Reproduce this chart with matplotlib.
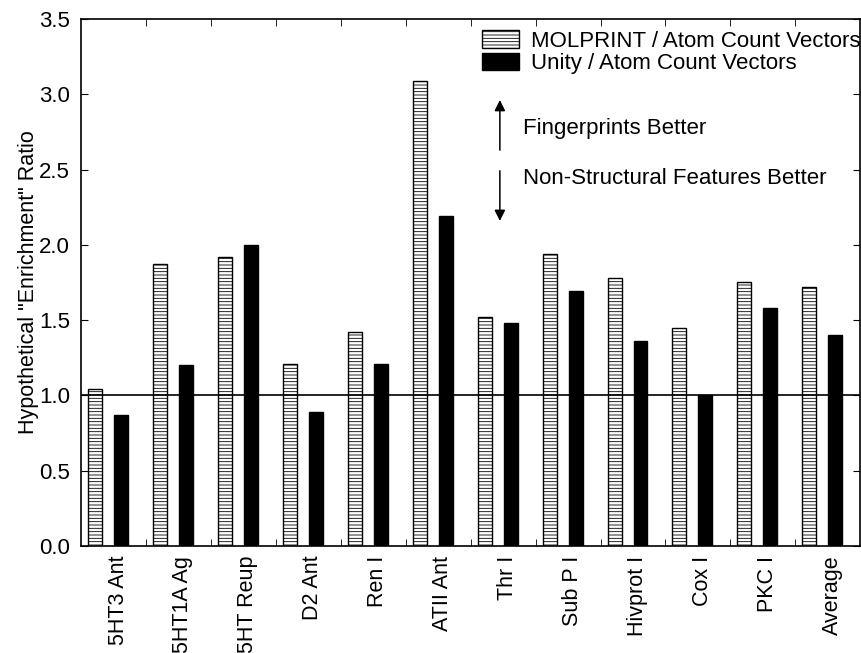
import numpy as np
import matplotlib
matplotlib.use("Agg")
import matplotlib.pyplot as plt
from matplotlib.patches import Patch

# data
targets = ["5HT3 Ant", "5HT1A Ag", "5HT Reup", "D2 Ant", "Ren I", "ATII Ant",
           "Thr I", "Sub P I", "Hivprot I", "Cox I", "PKC I", "Average"]
molprint = [1.04, 1.87, 1.92, 1.21, 1.42, 3.09, 1.52, 1.94, 1.78, 1.45, 1.75, 1.72]
unity = [0.87, 1.20, 2.00, 0.89, 1.21, 2.19, 1.48, 1.69, 1.36, 1.00, 1.58, 1.40]

plt.rcParams['font.family'] = ['Liberation Sans', 'DejaVu Sans']
plt.rcParams['hatch.linewidth'] = 0.6

fig = plt.figure(figsize=(8.62, 6.53), dpi=100)
ax = fig.add_axes([0.094, 0.164, 0.904, 0.807])

x = np.arange(len(targets))
w = 0.215
ax.bar(x + 0.108, molprint, width=w, align='edge', color='white',
       edgecolor='black', hatch='-----', linewidth=1.0,
       label='MOLPRINT / Atom Count Vectors')
ax.bar(x + 0.508, unity, width=w, align='edge', color='black',
       edgecolor='black', linewidth=1.0, label='Unity / Atom Count Vectors')

ax.axhline(1.0, color='black', lw=1.2)

ax.set_xlim(0, len(targets))
ax.set_ylim(0, 3.5)
ax.set_yticks(np.arange(0, 3.51, 0.5))
ax.set_yticklabels([f"{v:.1f}" for v in np.arange(0, 3.51, 0.5)], fontsize=16)
ax.set_xticks(x + 0.57)
ax.set_xticklabels(targets, rotation=90, fontsize=15.5)
ax.tick_params(axis='x', which='major', length=0, pad=7)
ax.set_xticks(np.arange(1, len(targets)), minor=True)
ax.tick_params(axis='x', which='minor', direction='in', length=5, top=True, bottom=True)
ax.tick_params(axis='y', direction='in', length=5, left=True, right=True, pad=8)
for s in ax.spines.values():
    s.set_linewidth(1.2)

ax.set_ylabel('Hypothetical "Enrichment" Ratio', fontsize=15.5, labelpad=0)

# arrows and annotations
ax.annotate('', xy=(6.45, 2.98), xytext=(6.45, 2.61),
            arrowprops=dict(arrowstyle='-|>', color='black', lw=1.1, mutation_scale=16))
ax.annotate('', xy=(6.45, 2.14), xytext=(6.45, 2.51),
            arrowprops=dict(arrowstyle='-|>', color='black', lw=1.1, mutation_scale=16))
ax.text(6.8, 2.77, 'Fingerprints Better', fontsize=16, va='center')
ax.text(6.8, 2.44, 'Non-Structural Features Better', fontsize=16, va='center')

handles = [Patch(facecolor='white', edgecolor='black', hatch='-----', label='MOLPRINT / Atom Count Vectors'),
           Patch(facecolor='black', edgecolor='black', label='Unity / Atom Count Vectors')]
ax.legend(handles=handles, loc='upper right', bbox_to_anchor=(1.014, 1.0), frameon=False,
          fontsize=16, handlelength=1.67, handleheight=0.85, handletextpad=0.5,
          labelspacing=0.05, borderaxespad=0.3, borderpad=0.2)

fig.savefig('out.png', dpi=100)
